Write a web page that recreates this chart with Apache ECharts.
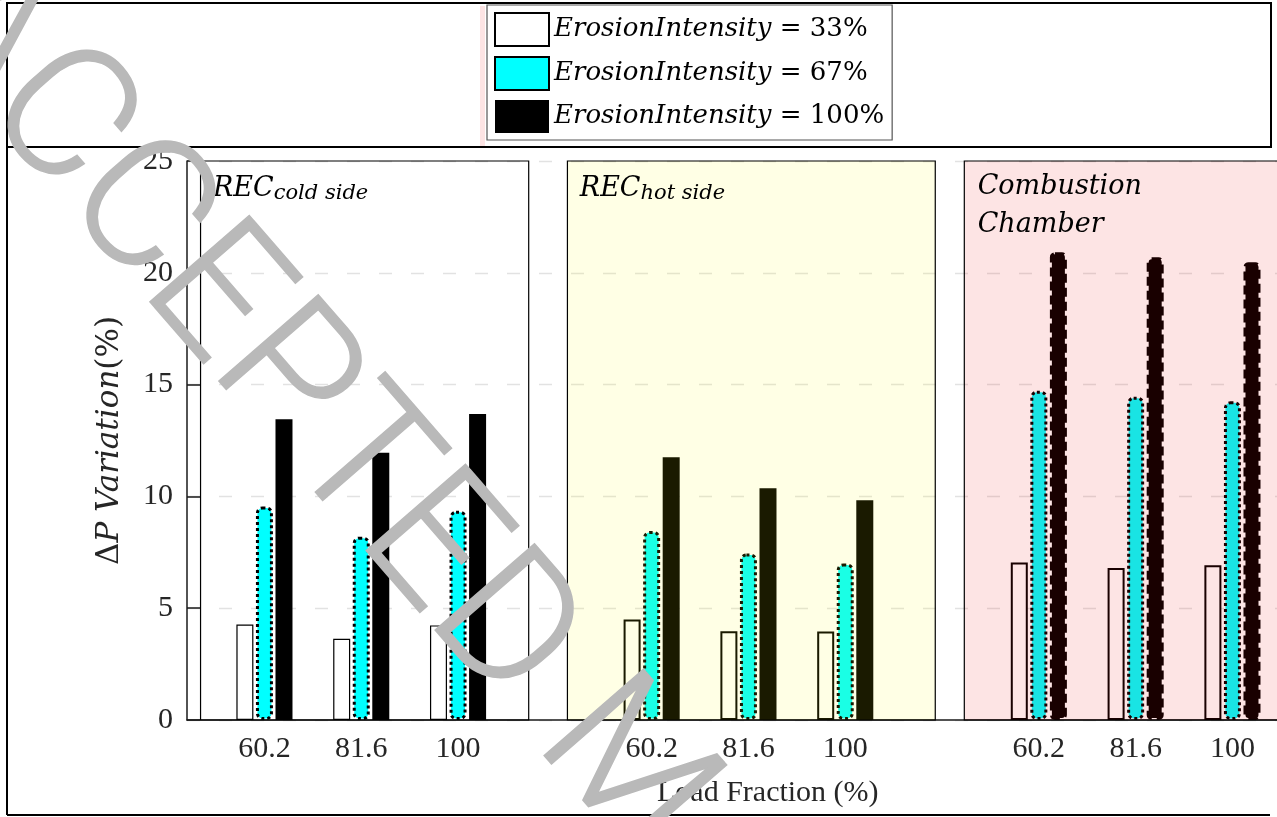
<!DOCTYPE html>
<html><head><meta charset="utf-8">
<script src="https://cdn.jsdelivr.net/npm/echarts@6/dist/echarts.min.js"></script>
<style>html,body{margin:0;padding:0;background:#fff}#c{width:1277px;height:817px}</style>
</head><body><div id="c"></div>
<script>
// ---- data ----
const loadFractions = ['60.2', '81.6', '100'];
const sectionNames = ['REC cold side', 'REC hot side', 'Combustion Chamber'];
const seriesNames = ['ErosionIntensity = 33%', 'ErosionIntensity = 67%', 'ErosionIntensity = 100%'];
// order: cold side (60.2, 81.6, 100), hot side (...), combustion chamber (...)
const erosion33  = [4.27, 3.63, 4.23,  4.50, 3.97, 3.96,  7.04, 6.80, 6.92];
const erosion67  = [9.55, 8.20, 9.36,  8.45, 7.45, 7.00,  14.73, 14.46, 14.25];
const erosion100 = [13.45, 11.95, 13.68, 11.75, 10.36, 9.83, 20.92, 20.70, 20.47];
const yMax = 25, yStep = 5;

// ---- layout helpers ----
const NL = loadFractions.length, NPER = NL + 1;
const xOf = k => Math.floor(k / NL) * NPER + (k % NL);
const sectionOf = k => Math.floor(k / NL);
const tickPositions = erosion33.map((_, k) => xOf(k));
const serif = 'DejaVu Serif', times = 'Liberation Serif';

function mk(values, styleFor) {
  return values.map((v, k) => {
    const item = { value: [xOf(k), v] };
    const s = styleFor ? styleFor(sectionOf(k)) : null;
    if (s) item.itemStyle = s;
    return item;
  });
}

const xMin = -0.8, xMax = 11.2;
const panelExtents = [[-0.66, 2.73, yMax], [3.13, 6.93, yMax], [7.23, xMax, yMax + 0.15]];
const panelFills = ['rgba(255,255,255,0)', 'rgba(255,255,0,0.1)', 'rgba(236,0,0,0.106)'];
const titleRich = {
  m: { fontFamily: serif, fontStyle: 'italic', fontSize: 27, lineHeight: 30, color: '#000', verticalAlign: 'middle' },
  s: { fontFamily: serif, fontStyle: 'italic', fontSize: 21, lineHeight: 12, color: '#000', verticalAlign: 'bottom' },
  c: { fontFamily: serif, fontStyle: 'italic', fontSize: 27, lineHeight: 38, color: '#000' }
};
const titleText = [
  '{m|REC}{s|cold side}',
  '{m|REC}{s|hot side}',
  '{c|Combustion}\n{c|Chamber}'
];
const markAreaData = panelExtents.map((p, i) => [
  { name: sectionNames[i], xAxis: p[0], yAxis: 0,
    itemStyle: { color: panelFills[i], borderColor: '#000', borderWidth: 1.2 },
    label: { show: true, position: 'insideTopLeft', distance: 0, padding: i === 2 ? [8, 0, 0, 14] : [14, 0, 0, 13],
             formatter: titleText[i], rich: titleRich } },
  { xAxis: p[1], yAxis: p[2] }
]);

const chart = echarts.init(document.getElementById('c'), null, { renderer: 'canvas' });
const deg = Math.PI / 180;
chart.setOption({
  animation: false,
  backgroundColor: '#fff',
  grid: { left: 187, top: 161, width: 1161.6, height: 559, containLabel: false, outerBoundsMode: 'none' },
  legend: {
    left: 487, top: 5, orient: 'vertical', padding: [7, 8, 7, 7], itemGap: 9,
    itemWidth: 54, itemHeight: 33, icon: 'rect', backgroundColor: '#fff',
    borderColor: '#555', borderWidth: 1.2, selectedMode: false, data: seriesNames,
    formatter: n => { const parts = n.split(' = '); return '{i|' + parts[0] + '}{u| = ' + parts[1] + '}'; },
    textStyle: { rich: {
      i: { fontFamily: serif, fontStyle: 'italic', fontSize: 26, color: '#000' },
      u: { fontFamily: serif, fontSize: 26, color: '#000' }
    } }
  },
  xAxis: {
    type: 'value', min: xMin, max: xMax,
    name: 'Load Fraction (%)', nameLocation: 'middle', nameGap: 58,
    nameTextStyle: { fontFamily: times, fontSize: 30, color: '#262626' },
    axisLine: { show: true, onZero: false, lineStyle: { color: '#1a1a1a', width: 1.5 } },
    axisTick: { show: false },
    splitLine: { show: false },
    axisLabel: { customValues: tickPositions, margin: 14, fontFamily: times, fontSize: 30, color: '#262626',
                 formatter: v => loadFractions[Math.round(v) % NPER] }
  },
  yAxis: {
    type: 'value', min: 0, max: yMax, interval: yStep,
    name: '{u|Δ}{i|P Variation}{u|(%)}', nameLocation: 'middle', nameGap: 62,
    nameTextStyle: { rich: {
      u: { fontFamily: serif, fontSize: 31, color: '#262626' },
      i: { fontFamily: serif, fontStyle: 'italic', fontSize: 31, color: '#262626' }
    } },
    axisLine: { show: true, onZero: false, lineStyle: { color: '#1a1a1a', width: 1.5 } },
    axisTick: { show: true, inside: true, length: 13, lineStyle: { color: '#1a1a1a', width: 1.5 } },
    axisLabel: { margin: 14, fontFamily: times, fontSize: 30, color: '#262626' },
    splitLine: { show: true, lineStyle: { color: '#e2e2e2', width: 1.3, type: [13, 19] } }
  },
  series: [
    { name: seriesNames[0], type: 'bar', barWidth: 17, barGap: '15%',
      itemStyle: { color: '#fff', borderColor: '#000', borderWidth: 1.2 },
      data: mk(erosion33, s => s > 0 ? { borderWidth: 2 } : null) },
    { name: seriesNames[1], type: 'bar', barWidth: 17, barGap: '15%',
      itemStyle: { color: '#00ffff', borderColor: '#000', borderWidth: 3, borderType: 'dotted', borderRadius: 5 },
      data: mk(erosion67) },
    { name: seriesNames[2], type: 'bar', barWidth: 17, barGap: '15%', clip: false,
      itemStyle: { color: '#000' },
      data: mk(erosion100, s => s === 2 ? { borderColor: '#000', borderWidth: 4, borderType: [9, 5], borderRadius: 3 } : null),
      markArea: { z: 5, silent: true, data: markAreaData } }
  ],
  graphic: [
    { type: 'rect', z: 50, shape: { x: 7, y: 3, width: 1264, height: 144 }, style: { fill: 'none', stroke: '#000', lineWidth: 2 } },
    { type: 'line', z: 50, shape: { x1: 7, y1: 147, x2: 7, y2: 815 }, style: { stroke: '#000', lineWidth: 2 } },
    { type: 'line', z: 50, shape: { x1: 7, y1: 815, x2: 1270, y2: 815 }, style: { stroke: '#000', lineWidth: 2 } },
    { type: 'rect', z: 40, shape: { x: 480, y: 6, width: 5, height: 140 }, style: { fill: '#fde4e4' } },
    { type: 'text', z: 100, x: -59, y: -9, rotation: -49 * deg,
      style: { text: 'ACCEPTED MANUSCRIPT', fontFamily: 'Roboto', fontWeight: 300, fontSize: 185,
               fill: '#b9b9b9', stroke: '#b9b9b9', lineWidth: 1.5, textAlign: 'left', textVerticalAlign: 'middle',
               align: 'left', verticalAlign: 'middle', blend: 'multiply' } }
  ]
});
</script></body></html>
